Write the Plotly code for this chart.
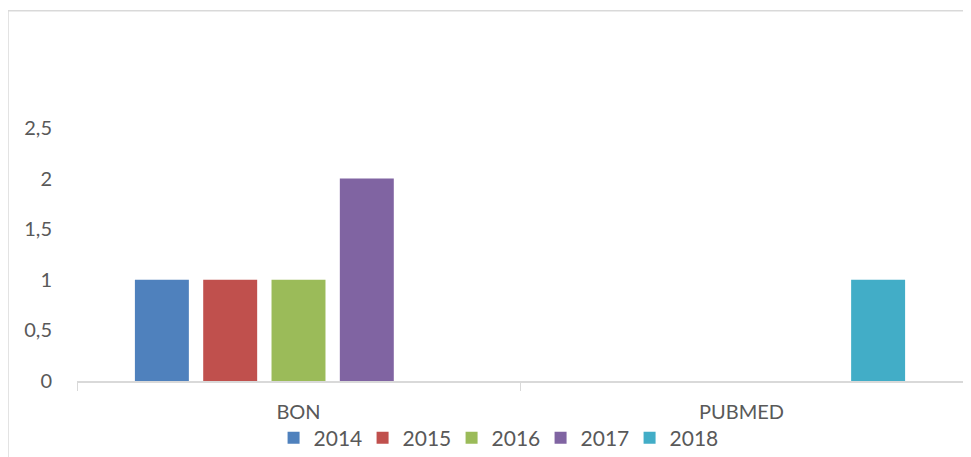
import plotly.graph_objects as go

categories = ["BON", "PUBMED"]
years = ["2014", "2015", "2016", "2017", "2018"]
values_2014 = [1, 0]
values_2015 = [1, 0]
values_2016 = [1, 0]
values_2017 = [2, 0]
values_2018 = [0, 1]
series_values = [values_2014, values_2015, values_2016, values_2017, values_2018]
colors = ["#4F81BD", "#C0504D", "#9BBB59", "#8064A2", "#42ADC7"]
y_tick_vals = [0, 0.5, 1, 1.5, 2, 2.5]
y_tick_text = ["0", "0,5", "1", "1,5", "2", "2,5"]

FONT = "Lato"
GRAY = "#595959"

fig = go.Figure()
for name, vals, col in zip(years, series_values, colors):
    fig.add_trace(go.Bar(x=categories, y=vals, name=name, marker_color=col,
                         marker_line_width=0))

fig.update_layout(
    width=963, height=449,
    margin=dict(l=69, r=8, t=120, b=76, autoexpand=False),
    paper_bgcolor="white", plot_bgcolor="white",
    barmode="group", bargap=0.229, bargroupgap=0.21,
    showlegend=True,
    legend=dict(orientation="h", x=0.473, xanchor="center",
                yref="container", y=0.042, yanchor="middle",
                font=dict(family=FONT, size=21, color=GRAY), itemwidth=30,
                entrywidth=44, entrywidthmode="pixels",
                traceorder="normal", bgcolor="rgba(0,0,0,0)"),
    font=dict(family=FONT, color=GRAY),
    separators=", ",
)
fig.update_xaxes(
    showline=True, linecolor="#D9D9D9", linewidth=1.5,
    ticks="outside", tickson="boundaries", ticklen=8, tickcolor="#D9D9D9",
    tickfont=dict(family=FONT, size=20, color=GRAY), ticklabelstandoff=12,
    showgrid=False, zeroline=False, range=[-0.5, 1.5],
)
fig.update_yaxes(
    range=[0, 2.5], tickvals=y_tick_vals, ticktext=y_tick_text,
    showgrid=False, zeroline=False, showline=False, ticks="",
    tickfont=dict(family=FONT, size=20, color=GRAY), ticklabelstandoff=24,
)
# chart area border
fig.add_shape(type="rect", xref="paper", yref="paper",
              x0=-0.0779, x1=1.05, y0=-0.5, y1=1.4634,
              line=dict(color="#D9D9D9", width=1.5), fillcolor="rgba(0,0,0,0)")

fig.write_html("out.html")
